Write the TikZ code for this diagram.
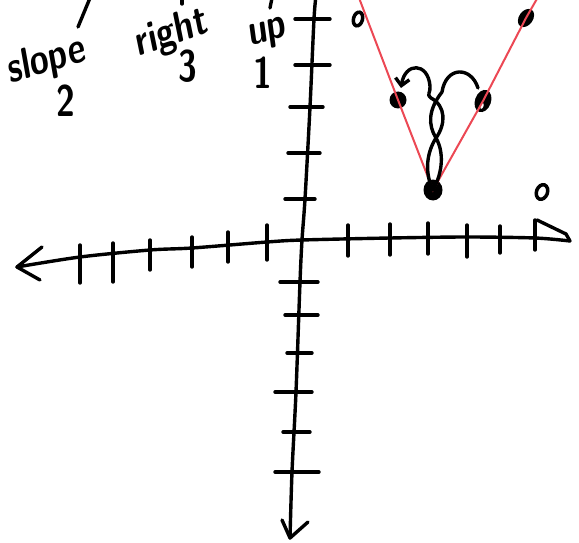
\documentclass[tikz,border=0pt]{standalone}
\usetikzlibrary{arrows.meta,shapes.geometric}
\definecolor{vred}{RGB}{236,72,84}
\begin{document}
\begin{tikzpicture}[x=1pt,y=-1pt,
  ink/.style={line width=3.4pt,line cap=round,line join=round},
  redline/.style={vred,line width=2pt},
  fdot/.style={ellipse,fill=black,inner sep=0pt},
  odot/.style={ellipse,draw=black,line width=3.5pt,fill=white,inner sep=0pt},
  hand/.style={font=\sffamily\bfseries\fontsize{34}{34}\selectfont,inner sep=0pt,yscale=1.3}]
\useasboundingbox (0,0) rectangle (579,543);
\clip (0,0) rectangle (579,543);
% axes end points
\coordinate (xl) at (17,267);
\coordinate (xr) at (570,241);
\coordinate (yt) at (316,-4);
\coordinate (yb) at (290,538);
% x axis
\draw[ink] plot[smooth,tension=0.5] coordinates {(xl) (80,257) (150,250) (192,248) (267,242) (302,240) (390,238) (467,237) (535,238) (xr)};
\draw[ink] (42,247) -- (xl) -- (40,280);
\draw[ink] (537,220) -- (566,234) -- (xr);
% y axis
\draw[ink] plot[smooth,tension=0.5] coordinates {(yt) (314,19) (310,107) (305,199) (302,240) (300,282) (296,392) (292,472) (yb)};
\draw[ink] (282,520) -- (yb) -- (308,522);
% x ticks
\foreach \x/\a/\b in {80/245/283,113/243/282,150/240/270,192/237/267,228/232/262,267/225/260,348/225/256,390/224/255,428/223/254,467/225/257,500/226/253,535/220/250}
  \draw[ink] (\x,\a) -- (\x,\b);
% y ticks
\foreach \y/\a/\b in {19/295/330,65/295/330,107/290/323,153/288/320,199/285/315,282/280/318,315/285/318,353/287/312,392/275/312,432/283/310,472/275/319}
  \draw[ink] (\a,\y) -- (\b,\y);
% labels
\node[hand,rotate=13] (slope) at (47,61) {slope};
\node[hand] (two) at (66,101) {2};
\node[hand,rotate=15] (right) at (172,34) {right};
\node[hand] (three) at (188,66) {3};
\node[hand,rotate=10] (up) at (268,35) {up};
\node[hand] (one) at (263,73) {1};
\draw[ink] (78,27) -- (90,-2);
\draw[ink] (182,-2) -- (182,4);
\draw[ink] (272,-2) -- (270,8);
% dots
\node[odot,minimum width=9pt,minimum height=14pt,rotate=-15] (d1) at (358,19) {};
\node[fdot,minimum width=14pt,minimum height=20pt,rotate=-35] (d2) at (526,18) {};
\node[fdot,minimum width=17pt,minimum height=17pt] (d3) at (398,100) {};
\node[fdot,minimum width=16pt,minimum height=23pt,rotate=-20] (d4) at (483,101) {};
\node[fdot,fill=white,minimum width=3pt,minimum height=6pt,rotate=-20] (d4h) at (482,106) {};
\node[fdot,minimum width=19pt,minimum height=21pt] (d5) at (433,190) {};
\node[odot,minimum width=11pt,minimum height=15pt,rotate=-20] (d6) at (542,192) {};
% red V
\coordinate (lt) at (356,-10);
\coordinate (rt) at (542,-10);
\draw[redline] (lt) -- (d3.center) -- (d5.center) -- (d4.center) -- (d2.center) -- (rt);
% loops
\coordinate (ra) at (478,88);
\draw[ink] (ra) .. controls (471,66) and (446,66) .. (442,92) .. controls (428,110) and (428,125) .. (436,138) .. controls (444,152) and (443,172) .. (d5.center);
\draw[ink,-{Straight Barb[length=7pt,width=14pt]}] (d5.center) .. controls (424,172) and (427,152) .. (436,138) .. controls (446,124) and (446,106) .. (431,98) .. controls (426,95) and (431,92) .. (430,86) .. controls (428,62) and (405,62) .. (401,88);
\end{tikzpicture}
\end{document}
